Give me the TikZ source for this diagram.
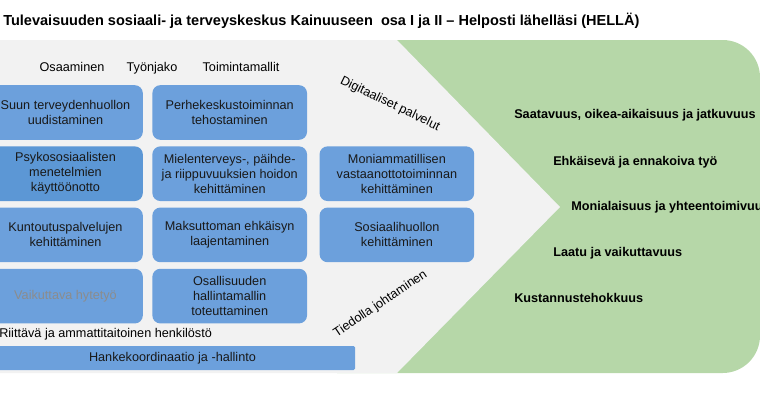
\documentclass[tikz,border=0pt]{standalone}
\usepackage{fontspec}
\setmainfont{Liberation Sans}
\usetikzlibrary{positioning}
\definecolor{tausta}{RGB}{242,242,242}
\definecolor{vihrea}{RGB}{182,215,168}
\definecolor{laatikko}{RGB}{108,160,220}
\definecolor{tumma}{RGB}{92,151,213}
\definecolor{haalea}{RGB}{140,140,140}
\tikzset{
  palvelu/.style={rectangle, rounded corners=6pt, fill=laatikko, minimum width=116pt,
    minimum height=41pt, inner sep=1pt, align=center, text=black!90,
    font=\fontsize{9.5}{11.25}\selectfont},
  otsake/.style={font=\fontsize{9.5}{11.25}\selectfont},
  tavoite/.style={anchor=west, inner sep=0pt, font=\bfseries\fontsize{9.5}{11.25}\selectfont}
}
\begin{document}
\begin{tikzpicture}[x=0.75pt, y=-0.75pt, node distance=4.5pt and 6.75pt]
	\useasboundingbox (0,0) rectangle (760,400);
	\fill[vihrea, rounded corners=28pt] (300,40) rectangle (760,373);
	\fill[tausta] (0,40) -- (397,40) -- (560,207) -- (397,373) -- (0,373) -- cycle;
	\node[anchor=base west, inner sep=0pt, font=\bfseries\fontsize{10.9}{12}\selectfont]
		(otsikko) at (3,25) {Tulevaisuuden sosiaali- ja terveyskeskus Kainuuseen~ osa I ja II -- Helposti lähelläsi (HELLÄ)};
	\node[otsake, anchor=base] (osaa) at (72,71.5)  {Osaaminen};
	\node[otsake, anchor=base] (tyon) at (152,71.5) {Työnjako};
	\node[otsake, anchor=base] (toim) at (241,71.5) {Toimintamallit};
	\node[palvelu] (suun)   at (65.5,112.5)      {Suun terveydenhuollon\\uudistaminen};
	\node[palvelu] (perhe)  [right=of suun]      {Perhekeskustoiminnan\\tehostaminen};
	\node[palvelu, fill=tumma] (psyko) [below=of suun] {Psykososiaalisten\\menetelmien\\käyttöönotto};
	\node[palvelu] (mieli)  [right=of psyko]     {Mielenterveys-, päihde-\\ja riippuvuuksien hoidon\\kehittäminen};
	\node[palvelu] (moni)   [right=9pt of mieli] {Moniammatillisen\\vastaanottotoiminnan\\kehittäminen};
	\node[palvelu] (kuntou) [below=of psyko]     {Kuntoutuspalvelujen\\kehittäminen};
	\node[palvelu] (maksu)  [right=of kuntou]    {Maksuttoman ehkäisyn\\laajentaminen};
	\node[palvelu] (sosi)   [right=9pt of maksu] {Sosiaalihuollon\\kehittäminen};
	\node[palvelu, text=haalea] (vaikut) [below=of kuntou] {Vaikuttava hytetyö};
	\node[palvelu] (osall)  [right=of vaikut]    {Osallisuuden\\hallintamallin\\toteuttaminen};
	\node[otsake, anchor=west, inner sep=0pt] (henk) at (-1,334) {Riittävä ja ammattitaitoinen henkilöstö};
	\node[palvelu, rounded corners=1pt, minimum width=273.75pt, minimum height=18pt] (hanke) at (172.5,358) {Hankekoordinaatio ja -hallinto};
	\node[otsake, rotate=-26] (digi) at (390,104) {Digitaaliset palvelut};
	\node[otsake, rotate=34]  (tieto) at (380.5,304) {Tiedolla johtaminen};
	\node[tavoite] (saat)  at (514,115) {Saatavuus, oikea-aikaisuus ja jatkuvuus};
	\node[tavoite] (ehk)   at (553,162) {Ehkäisevä ja ennakoiva työ};
	\node[tavoite] (monia) at (571,207) {Monialaisuus ja yhteentoimivuus};
	\node[tavoite] (laatu) at (553,253) {Laatu ja vaikuttavuus};
	\node[tavoite] (kust)  at (514,298) {Kustannustehokkuus};
\end{tikzpicture}
\end{document}
